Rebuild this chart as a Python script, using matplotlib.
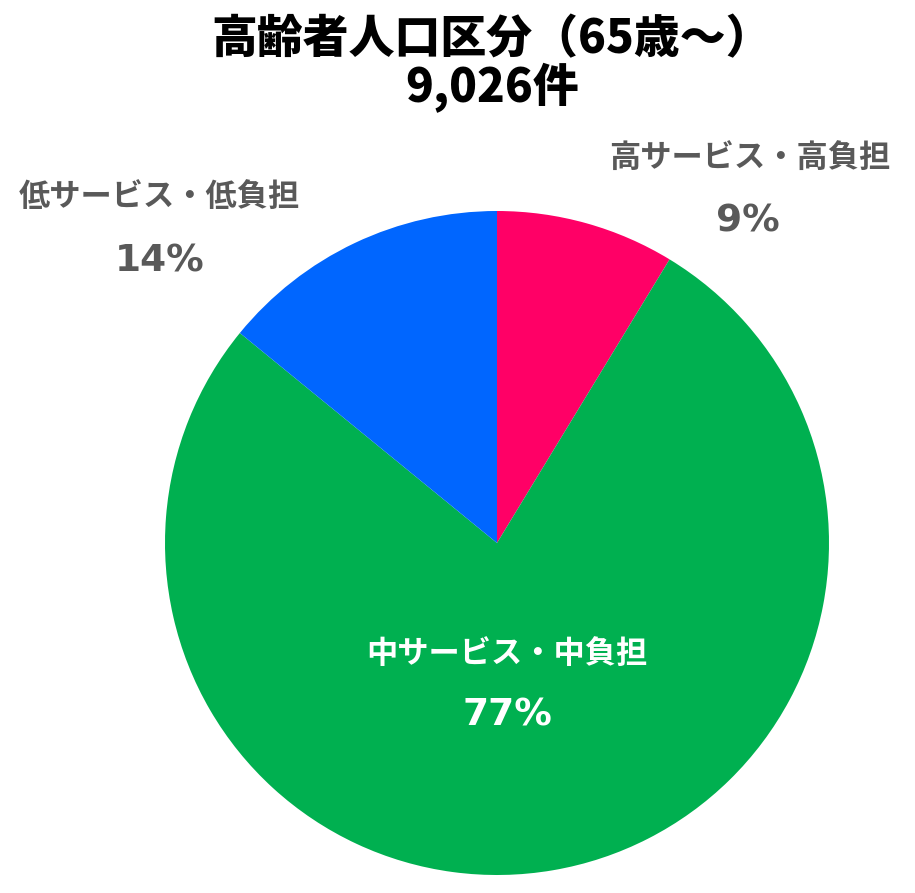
import matplotlib
matplotlib.use('Agg')
import matplotlib.pyplot as plt

plt.rcParams['font.family'] = ['Noto Sans CJK JP', 'DejaVu Sans']

title_lines = ['高齢者人口区分（65歳〜）', '9,026件']
labels = ['高サービス・高負担', '中サービス・中負担', '低サービス・低負担']
values = [8.7, 77.2, 14.1]
colors = ['#FF0066', '#00B050', '#0066FF']

fig = plt.figure(figsize=(9.15, 8.93), dpi=100)
ax = fig.add_axes([0, 0, 1, 1])

wedges, _ = ax.pie(values, colors=colors, startangle=90, counterclock=False,
                   radius=332, center=(497, 350), frame=True,
                   wedgeprops=dict(linewidth=0))
ax.set_xlim(0, 915)
ax.set_ylim(0, 893)
ax.set_aspect('equal')
ax.axis('off')

# label positions (name line, percent line)
pos = [((750, 735), (748, 671)), ((507, 239), (507, 177)), ((159, 696), (160, 632))]
tcol = ['#595959', 'white', '#595959']
for lab, v, (p1, p2), c in zip(labels, values, pos, tcol):
    ax.text(p1[0], p1[1], lab, ha='center', va='center', fontsize=22.5,
            fontweight='bold', color=c)
    ax.text(p2[0], p2[1], '%.0f%%' % v, ha='center', va='center', fontsize=27,
            fontweight='bold', color=c, family='DejaVu Sans')

ax.text(492, 853, title_lines[0], ha='center', va='center', fontsize=33,
        fontweight='heavy', color='black')
ax.text(492, 805, title_lines[1], ha='center', va='center', fontsize=33,
        fontweight='heavy', color='black')

fig.savefig('out.png', dpi=100)
